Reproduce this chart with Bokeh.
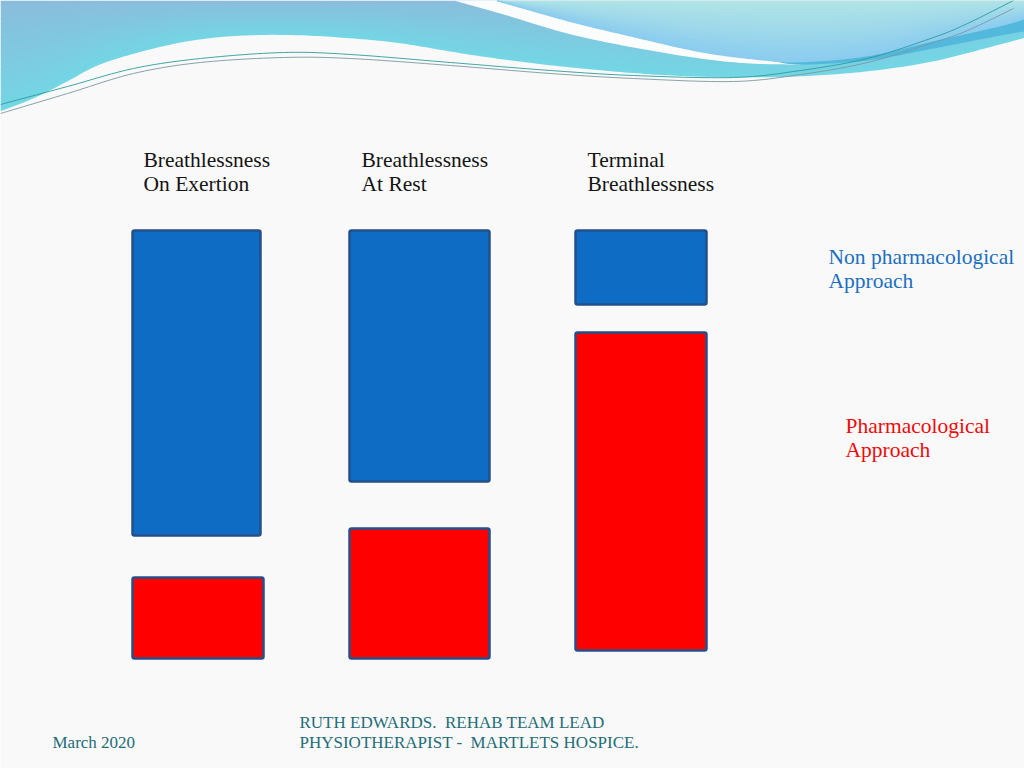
import numpy as np
from bokeh.plotting import figure
from bokeh.models import Range1d
from bokeh.core.properties import value
from bokeh.embed import file_html
from bokeh.resources import INLINE

# ---------------- data ----------------
categories = [("Breathlessness", "On Exertion"),
              ("Breathlessness", "At Rest"),
              ("Terminal", "Breathlessness")]
non_pharm_top = [428, 428, 428]
non_pharm_bottom = [123, 177, 354]
pharm_top = [81, 130, 326]
pharm_bottom = [0, 0, 8]
series_labels = [("Non pharmacological", "Approach"), ("Pharmacological", "Approach")]
footer_date = "March 2020"
footer_credit = ["RUTH EDWARDS.  REHAB TEAM LEAD", "PHYSIOTHERAPIST -  MARTLETS HOSPICE."]

# ---------------- layout ----------------
BASE = 658  # page pixel row of value 0
W, H = 1024, 768


def Y(py):
    return BASE - np.asarray(py, dtype=float)


def hexmix(c1, c2, t):
    a = [int(c1[i:i + 2], 16) for i in (1, 3, 5)]
    b = [int(c2[i:i + 2], 16) for i in (1, 3, 5)]
    return "#%02x%02x%02x" % tuple(int(round(a[i] + (b[i] - a[i]) * t)) for i in range(3))


def smooth(xk, yk, n=12):
    """Catmull-Rom smoothing of a decorative outline."""
    P = np.column_stack([xk, yk]).astype(float)
    P = np.vstack([P[0], P, P[-1]])
    out = []
    for i in range(1, len(P) - 2):
        p0, p1, p2, p3 = P[i - 1], P[i], P[i + 1], P[i + 2]
        for t in np.linspace(0, 1, n, endpoint=False):
            t2, t3 = t * t, t * t * t
            out.append(0.5 * ((2 * p1) + (-p0 + p2) * t + (2 * p0 - 5 * p1 + 4 * p2 - p3) * t2
                              + (-p0 + 3 * p1 - 3 * p2 + p3) * t3))
    out.append(P[-2])
    out = np.array(out)
    return out[:, 0], out[:, 1]


p = figure(width=W, height=H, x_range=Range1d(0, W),
           y_range=Range1d(BASE - H, BASE),
           output_backend="svg", toolbar_location=None,
           x_axis_location=None, y_axis_location=None,
           min_border=0, background_fill_color="#f9f9f9",
           border_fill_color="#f9f9f9", outline_line_color=None)
p.grid.visible = False

# ---------- decorative wave header ----------
low_x = [0, 33, 67, 100, 150, 200, 250, 300, 350, 400, 467, 533, 600, 667, 733, 800, 867, 933, 1000, 1030]
low_y = [110, 97, 80, 63, 48, 38, 34, 34, 37, 42, 53, 62, 69, 74, 76, 75, 70, 60, 43, 35]
sx_, sy_ = smooth(low_x, low_y)
xs = np.linspace(0, 1030, 260)
L = np.interp(xs, sx_, sy_)
N = 24
for k in range(N):
    t0, t1 = k / N, (k + 1) / N
    top = L * t0
    bot = L * t1 + 0.8
    px = np.concatenate([xs, xs[::-1]])
    py = np.concatenate([top, bot[::-1]])
    p.patch(px, Y(py), fill_color=hexmix("#8bbcdb", "#74d5e4", t1),
            line_color=None)

# light region top right
bx = [497, 567, 633, 700, 760, 800, 867, 933, 1000, 1024, 1030]
by = [0, 20, 36, 51, 59, 61, 55, 40, 25, 18, 16]
bsx, bsy = smooth(bx, by)
xs2 = np.linspace(497, 1030, 180)
B = np.interp(xs2, bsx, bsy)

# white swoosh
sw_low_x = [453, 500, 567, 633, 700, 750, 800]
sw_low_y = [0, 13, 33, 47, 58, 63, 64]
wx, wy = smooth(sw_low_x, sw_low_y)
sx = np.concatenate([wx, xs2[xs2 <= 800][::-1]])
sy = np.concatenate([wy, B[xs2 <= 800][::-1]])
p.patch(sx, Y(sy), fill_color="#fbfdfd", line_color=None)

# streak below light region
st_x = np.linspace(770, 1030, 80)
st_top = np.interp(st_x, bsx, bsy)
kx, ky = smooth([770, 800, 867, 933, 1000, 1030], [60, 64, 60, 48, 35, 30])
st_bot = np.interp(st_x, kx, ky)
p.patch(np.concatenate([st_x, st_x[::-1]]), Y(np.concatenate([st_top, st_bot[::-1]])),
        fill_color="#52b8dc", line_color=None)

M = 18
for k in range(M):
    t0, t1 = k / M, (k + 1) / M
    top = B * t0
    bot = B * t1 + 0.8
    px = np.concatenate([xs2, xs2[::-1]])
    py = np.concatenate([top, bot[::-1]])
    p.patch(px, Y(py), fill_color=hexmix("#b3e5e5", "#8ccdef", t1),
            line_color=None)

# thin lines
la_x = [0, 67, 133, 200, 283, 350, 450, 550, 633, 733, 800, 867, 933, 967, 1013]
la_y = [104, 86, 68, 58, 52, 54, 62, 70, 75, 77, 70, 58, 37, 23, 0]
lb_y = [113, 93, 73, 62, 57, 58, 65, 73, 78, 81, 74, 62, 42, 30, 8]
ax_, ay_ = smooth(la_x, la_y)
bx_, by_ = smooth(la_x, lb_y)
p.line(ax_, Y(ay_), line_color="#2b9c9c", line_width=0.9)
p.line(bx_, Y(by_), line_color="#7c97a2", line_width=0.9)

# ---------------- bars ----------------
blue_left = [132, 349, 575]
blue_right = [260, 489, 706]
red_left = [132, 349, 575]
red_right = [263, 489, 706]
p.quad(left=blue_left, right=blue_right, top=non_pharm_top, bottom=non_pharm_bottom,
       fill_color="#0f6cc4", line_color="#23508a", line_width=2.5, border_radius=2)
p.quad(left=red_left, right=red_right, top=pharm_top, bottom=pharm_bottom,
       fill_color="#ff0000", line_color="#23508a", line_width=2.5, border_radius=2)

# ---------------- texts ----------------
FONT = value("Liberation Serif")
head_x = [143, 361, 587]
p.text(x=head_x, y=Y([159] * 3), text=[c[0] for c in categories],
       text_font=FONT, text_font_size="21.5px", text_baseline="middle",
       text_color="#141414")
p.text(x=head_x, y=Y([183] * 3), text=[c[1] for c in categories],
       text_font=FONT, text_font_size="21.5px", text_baseline="middle",
       text_color="#141414")

p.text(x=[828, 828], y=Y([256, 280]), text=list(series_labels[0]),
       text_font=FONT, text_font_size="21.5px", text_baseline="middle",
       text_color="#1b6fc0")
p.text(x=[845, 845], y=Y([425, 449]), text=list(series_labels[1]),
       text_font=FONT, text_font_size="21.5px", text_baseline="middle",
       text_color="#f00a0a")

credit_shown = [s.replace("  ", " \u00a0") for s in footer_credit]
p.text(x=[52], y=Y([742]), text=[footer_date], text_font=FONT,
       text_font_size="17px", text_baseline="middle", text_color="#236c78")
p.text(x=[299, 299], y=Y([722, 742]), text=credit_shown, text_font=FONT,
       text_font_size="17px", text_baseline="middle", text_color="#236c78")

open("out.html", "w").write(file_html(p, INLINE))
